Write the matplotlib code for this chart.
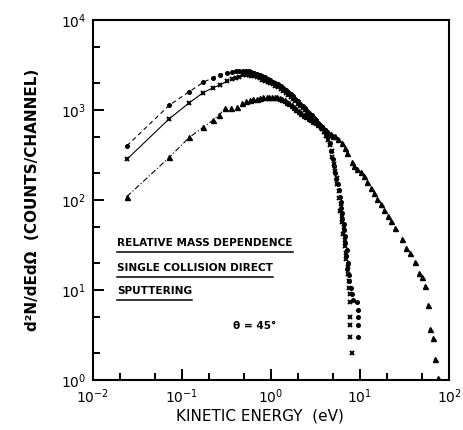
import matplotlib
matplotlib.use("Agg")
import matplotlib.pyplot as plt
from matplotlib.ticker import LogLocator, NullFormatter

# ---- data (energy in eV, counts/channel) ----
circ_E = [0.024, 0.072, 0.121, 0.173, 0.222, 0.268, 0.317, 0.36, 0.40, 0.44,
          0.48, 0.52, 0.56, 0.60, 0.65, 0.70, 0.75, 0.80, 0.86, 0.92,
          0.98, 1.05, 1.12, 1.20, 1.28, 1.37, 1.46, 1.56, 1.66, 1.77,
          1.88, 2.00, 2.13, 2.26, 2.40, 2.55, 2.70, 2.86, 3.03, 3.20,
          3.38, 3.56, 3.75, 4.0, 4.3, 4.6, 4.75, 5.0, 5.1, 5.3,
          5.35, 5.6, 5.75, 5.9, 6.1, 6.05, 6.3, 6.35, 6.6, 6.55,
          6.85, 6.7, 7.05, 7.0, 7.3, 7.2, 7.55, 7.6, 7.95, 8.1,
          8.3, 9.2, 9.4, 9.4, 9.4, 9.5]
circ_N = [400, 1130, 1600, 2030, 2280, 2450, 2560, 2620, 2700, 2720,
          2740, 2700, 2690, 2640, 2580, 2520, 2440, 2370, 2300, 2220,
          2140, 2070, 2000, 1920, 1850, 1760, 1680, 1590, 1510, 1420,
          1340, 1260, 1180, 1110, 1050, 980, 920, 870, 820, 770,
          720, 680, 640, 600, 520, 430, 350, 285, 240, 200,
          170, 150, 128, 108, 95, 82, 72, 62, 54, 46,
          40, 33, 28, 24, 20, 17, 14.5, 12.5, 10.5, 9.0,
          7.8, 7.4, 6.0, 5.0, 4.1, 3.0]

cross_E = [0.024, 0.072, 0.121, 0.173, 0.222, 0.268, 0.317, 0.36, 0.40, 0.44,
           0.48, 0.52, 0.56, 0.60, 0.65, 0.70, 0.75, 0.80, 0.86, 0.92,
           0.98, 1.05, 1.12, 1.20, 1.28, 1.37, 1.46, 1.56, 1.66, 1.77,
           1.88, 2.00, 2.13, 2.26, 2.40, 2.55, 2.70, 2.86, 3.03, 3.20,
           3.38, 3.56, 3.75, 3.95, 4.15, 4.35, 4.55, 4.8, 4.9, 5.15,
           5.2, 5.45, 5.5, 5.75, 5.8, 6.05, 6.0, 6.3, 6.25, 6.55,
           6.5, 6.8, 6.7, 7.0, 6.95, 7.3, 7.25, 7.6, 7.5, 7.8,
           7.75, 7.8, 7.8, 7.8, 8.05]
cross_N = [283, 800, 1205, 1560, 1760, 1900, 2080, 2190, 2280, 2350,
           2420, 2450, 2440, 2410, 2380, 2320, 2250, 2180, 2100, 2040,
           1990, 1920, 1850, 1780, 1720, 1640, 1560, 1480, 1410, 1340,
           1260, 1180, 1110, 1050, 990, 930, 880, 830, 790, 745,
           700, 660, 620, 575, 520, 470, 410, 350, 300, 250,
           210, 175, 150, 125, 105, 90, 76, 66, 57, 50,
           42, 36, 31, 26, 22, 18, 15, 12.5, 10.5, 9.0,
           7.4, 5.0, 4.1, 3.0, 2.0]

tri_E = [0.024, 0.072, 0.121, 0.173, 0.222, 0.262, 0.304, 0.352, 0.41, 0.47,
         0.53, 0.58, 0.63, 0.69, 0.75, 0.82, 0.89, 0.96, 1.03, 1.10,
         1.18, 1.26, 1.34, 1.42, 1.50, 1.60, 1.70, 1.80, 1.92, 2.05,
         2.20, 2.35, 2.50, 2.65, 2.80, 3.00, 3.20, 3.40, 3.60, 3.85,
         4.10, 4.40, 4.70, 5.0, 5.3, 5.7, 6.2, 6.7, 7.2, 8.1,
         8.6, 9.3, 10.2, 11.0, 12.1, 13.2, 14.4, 15.6, 17.1, 18.6,
         20.5, 22.5, 24.7, 29.4, 32.9, 36.8, 41.8, 45.7, 50.1, 54.2,
         58.1, 61.6, 66.6, 69.6, 75.2]
tri_N = [109, 298, 497, 641, 770, 880, 1045, 1060, 1090, 1200,
         1250, 1280, 1310, 1340, 1370, 1390, 1400, 1410, 1400, 1410,
         1390, 1350, 1320, 1280, 1240, 1190, 1140, 1090, 1030, 970,
         920, 880, 850, 820, 790, 760, 730, 700, 670, 640,
         600, 570, 545, 520, 520, 480, 430, 380, 330, 267,
         240, 222, 206, 184, 158, 137, 119, 102, 90, 77,
         67, 58, 49, 37, 29.5, 26, 20.5, 15.3, 14.1, 11.1,
         6.8, 3.7, 2.9, 1.7, 1.06]

n_line = 7  # first channels are joined by a line

fig = plt.figure(figsize=(4.63, 4.30), dpi=100, facecolor='w')
ax = fig.add_axes([0.2009, 0.1163, 0.7689, 0.8372])

ax.plot(circ_E[:n_line], circ_N[:n_line], 'k--', lw=0.8, dashes=(4, 3))
ax.plot(cross_E[:n_line], cross_N[:n_line], 'k-', lw=0.8)
ax.plot(tri_E[:n_line], tri_N[:n_line], 'k-.', lw=0.8, dashes=(5, 2, 1, 2))

ax.plot(circ_E, circ_N, 'o', ms=2.6, mfc='k', mec='k', ls='none')
ax.plot(cross_E, cross_N, 'x', ms=3.0, mew=1.4, mec='k', ls='none')
ax.plot(tri_E, tri_N, '^', ms=3.6, mfc='k', mec='k', ls='none')

ax.set_xscale('log')
ax.set_yscale('log')
ax.set_xlim(1e-2, 1e2)
ax.set_ylim(1e0, 1e4)

for a in (ax.xaxis, ax.yaxis):
    a.set_major_locator(LogLocator(base=10, numticks=10))
    a.set_minor_locator(LogLocator(base=10, subs=(2.0, 5.0), numticks=10))
    a.set_minor_formatter(NullFormatter())

ax.tick_params(which='both', direction='in', top=False, right=False, width=1.4)
ax.tick_params(which='major', length=8, labelsize=10, pad=5)
ax.tick_params(which='minor', length=5)
for s in ax.spines.values():
    s.set_linewidth(1.5)

ax.set_xlabel('KINETIC ENERGY  (eV)', fontsize=11)
ax.xaxis.set_label_coords(0.47, -0.078)
ax.xaxis.label.set_va('top')
ax.set_ylabel('d²N/dEdΩ  (COUNTS/CHANNEL)', fontsize=11, fontweight='bold')
ax.yaxis.set_label_coords(-0.15, 0.5)

notes = ['RELATIVE MASS DEPENDENCE', 'SINGLE COLLISION DIRECT', 'SPUTTERING']
note_y = [0.367, 0.297, 0.233]
for txt, yy in zip(notes, note_y):
    t = ax.text(0.068, yy, txt, transform=ax.transAxes, fontsize=7.6,
                fontweight='bold', ha='left', va='bottom')
    fig.canvas.draw()
    bb = t.get_window_extent().transformed(ax.transAxes.inverted())
    ax.plot([bb.x0, bb.x1], [yy - 0.012, yy - 0.012], 'k-', lw=1.1,
            transform=ax.transAxes)

ax.text(0.392, 0.135, 'θ = 45°', transform=ax.transAxes, fontsize=7.6,
        fontweight='bold', ha='left', va='bottom')

plt.savefig('out.png', dpi=100)
